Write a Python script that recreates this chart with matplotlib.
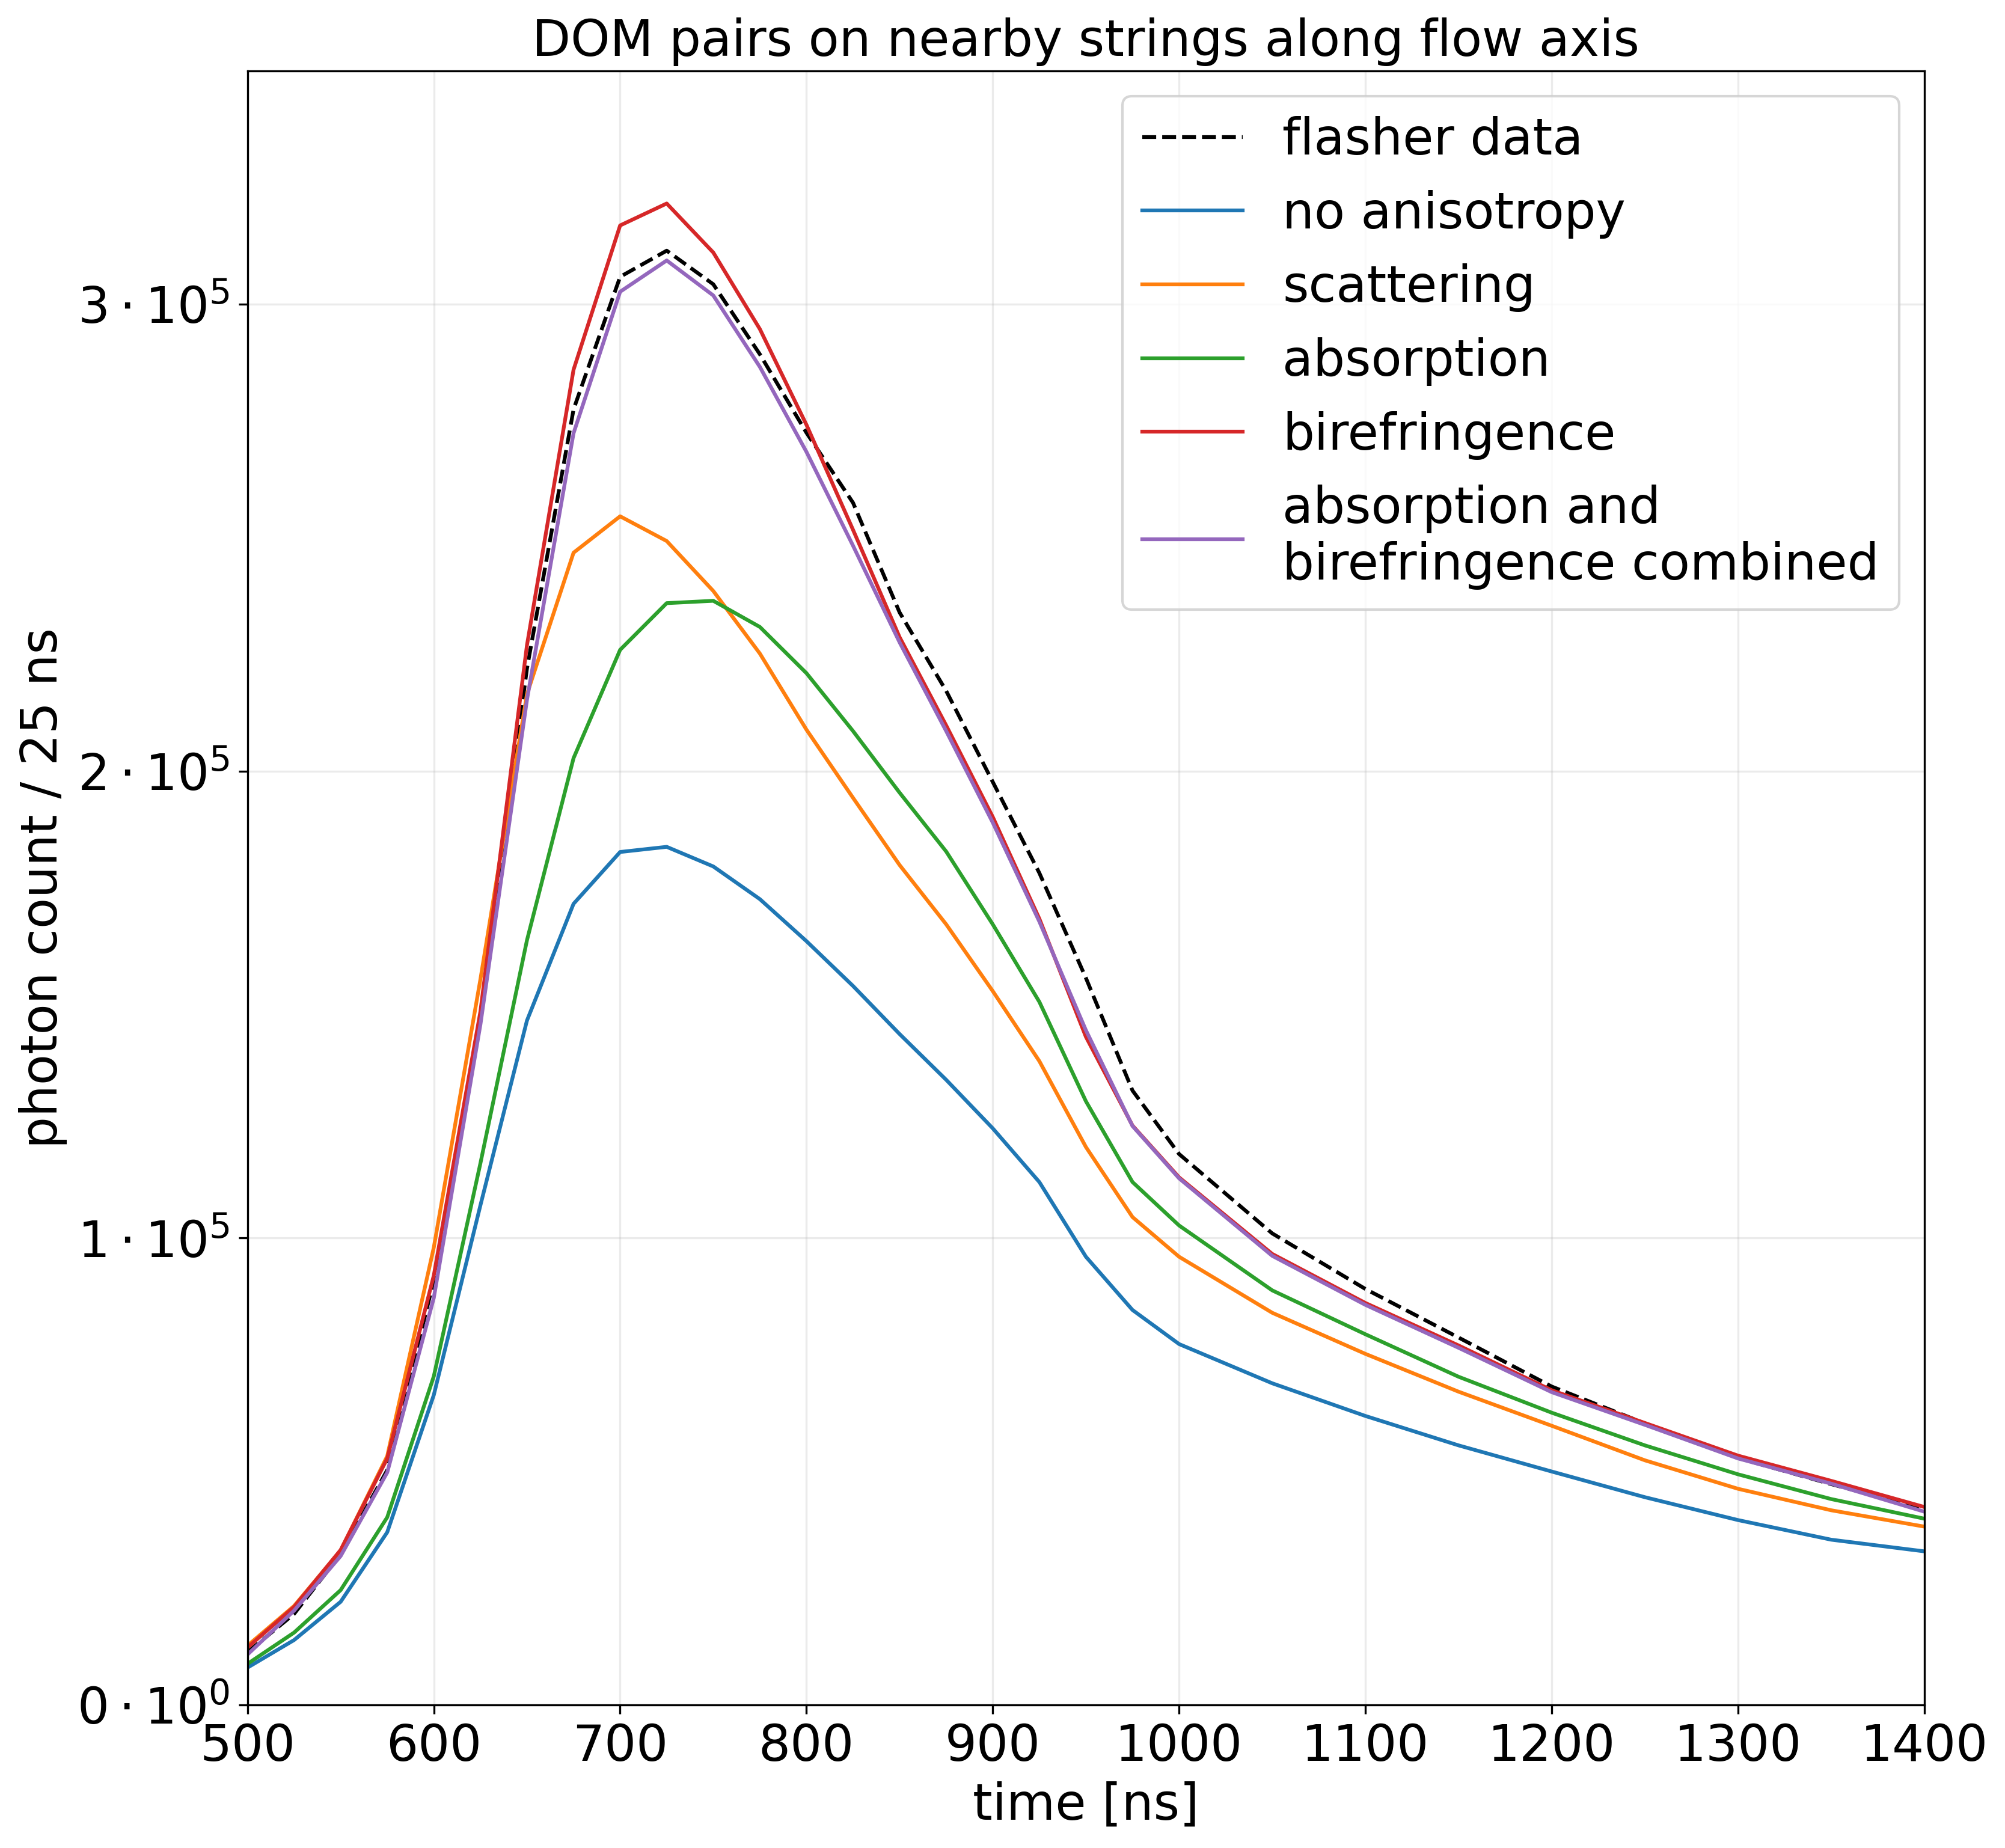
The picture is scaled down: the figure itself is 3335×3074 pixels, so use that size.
import numpy as np
import matplotlib
matplotlib.use('Agg')
import matplotlib.pyplot as plt
from matplotlib.ticker import FuncFormatter

# ── Data (photon counts in units of 1e5 per 25 ns bin) ─────────────────────
time_ns = [500, 525, 550, 575, 600, 625, 650, 675, 700, 725, 750, 775, 800,
           825, 850, 875, 900, 925, 950, 975, 1000,
           1050, 1100, 1150, 1200, 1250, 1300, 1350, 1400]

flasher = [0.113, 0.195, 0.323, 0.503, 0.91, 1.47, 2.22, 2.775, 3.059, 3.115,
           3.043, 2.893, 2.725, 2.575, 2.34, 2.172, 1.977, 1.782, 1.557, 1.316,
           1.18, 1.01, 0.891, 0.787, 0.682, 0.603, 0.529, 0.473, 0.42]
no_aniso = [0.080, 0.139, 0.221, 0.370, 0.664, 1.07, 1.466, 1.716, 1.827, 1.838,
            1.796, 1.726, 1.636, 1.54, 1.437, 1.339, 1.235, 1.12, 0.96, 0.846,
            0.773, 0.689, 0.619, 0.556, 0.50, 0.445, 0.396, 0.354, 0.329]
scattering = [0.127, 0.212, 0.331, 0.533, 0.98, 1.554, 2.165, 2.468, 2.546, 2.493,
              2.386, 2.252, 2.089, 1.943, 1.799, 1.672, 1.529, 1.379, 1.195, 1.045,
              0.96, 0.84, 0.752, 0.671, 0.598, 0.524, 0.463, 0.417, 0.382]
absorption = [0.088, 0.155, 0.246, 0.402, 0.704, 1.16, 1.638, 2.028, 2.26, 2.36,
              2.365, 2.309, 2.21, 2.086, 1.954, 1.828, 1.672, 1.506, 1.293, 1.12,
              1.027, 0.888, 0.794, 0.703, 0.626, 0.556, 0.494, 0.441, 0.399]
birefringence = [0.123, 0.210, 0.332, 0.528, 0.92, 1.485, 2.27, 2.86, 3.169, 3.216,
                 3.111, 2.947, 2.742, 2.517, 2.287, 2.098, 1.902, 1.684, 1.431, 1.241,
                 1.13, 0.966, 0.861, 0.77, 0.674, 0.604, 0.534, 0.48, 0.424]
combined = [0.108, 0.202, 0.319, 0.498, 0.872, 1.457, 2.153, 2.724, 3.027, 3.094,
            3.019, 2.866, 2.684, 2.483, 2.276, 2.086, 1.89, 1.678, 1.445, 1.24,
            1.128, 0.962, 0.857, 0.765, 0.670, 0.600, 0.528, 0.474, 0.414]

t = np.array(time_ns)
SCALE = 1e5

plt.rcParams['font.size'] = 20

fig, ax = plt.subplots(figsize=(11.12, 10.247))
fig.subplots_adjust(left=0.1234, right=0.9595, top=0.9616, bottom=0.0774)

ax.plot(t, np.array(flasher) * SCALE, "k--", label="flasher data")
ax.plot(t, np.array(no_aniso) * SCALE, color="C0", label="no anisotropy")
ax.plot(t, np.array(scattering) * SCALE, color="C1", label="scattering")
ax.plot(t, np.array(absorption) * SCALE, color="C2", label="absorption")
ax.plot(t, np.array(birefringence) * SCALE, color="C3", label="birefringence")
ax.plot(t, np.array(combined) * SCALE, color="C4",
        label="absorption and\nbirefringence combined")

def sci_fmt(v, pos):
    if v == 0:
        return r"$0\cdot10^{0}$"
    exp = int(np.floor(np.log10(abs(v))))
    mant = v / 10**exp
    return rf"${mant:.0f}\cdot10^{{{exp}}}$"

ax.set_xlim(500, 1400)
ax.set_ylim(0, 3.5e5)
ax.set_yticks([0, 1e5, 2e5, 3e5])
ax.yaxis.set_major_formatter(FuncFormatter(sci_fmt))
ax.grid(alpha=0.25)
ax.set_xlabel("time [ns]")
ax.set_ylabel("photon count / 25 ns")
ax.set_title("DOM pairs on nearby strings along flow axis", fontsize=20)
ax.legend(loc="upper right")

fig.savefig("out.png", dpi=300)
plt.close()
